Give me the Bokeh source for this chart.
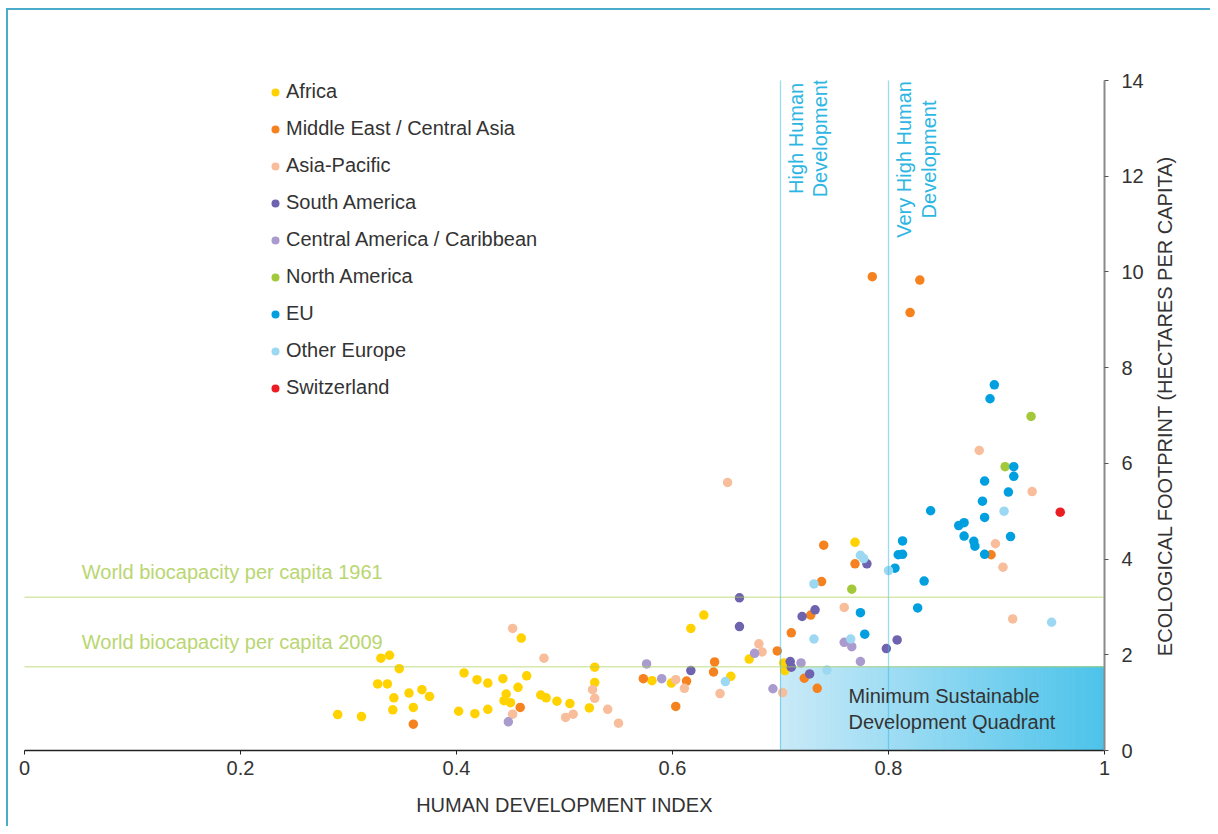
import math
import numpy as np
from bokeh.plotting import figure
from bokeh.layouts import row
from bokeh.models import Range1d, FixedTicker, Span, Label
from bokeh.embed import file_html
from bokeh.resources import INLINE

# ---------------- data ----------------
REGIONS = ["Africa", "Middle East / Central Asia", "Asia-Pacific", "South America",
           "Central America / Caribbean", "North America", "EU", "Other Europe", "Switzerland"]
COLORS = ["#FFD200", "#F5821F", "#F8BE9C", "#6E63AE", "#A99BCE", "#A3C93A",
          "#009FE0", "#9DD8F2", "#EC1C24"]

AFRICA_HDI = [0.290, 0.312, 0.330, 0.338, 0.347, 0.327, 0.336, 0.342, 0.341, 0.356,
              0.368, 0.375, 0.360, 0.407, 0.419, 0.402, 0.417, 0.460, 0.429, 0.443,
              0.465, 0.457, 0.446, 0.444, 0.450, 0.429, 0.478, 0.483, 0.493, 0.505,
              0.528, 0.528, 0.523, 0.581, 0.599, 0.629, 0.617, 0.654, 0.671, 0.703,
              0.704, 0.769]
AFRICA_EF = [0.75, 0.71, 1.93, 1.99, 1.71, 1.39, 1.39, 1.10, 0.85, 1.20,
             1.27, 1.13, 0.90, 1.62, 1.48, 0.82, 0.77, 2.35, 1.41, 1.50,
             1.56, 1.32, 1.18, 1.04, 1.00, 0.86, 1.16, 1.10, 1.03, 0.98,
             1.74, 1.42, 0.89, 1.46, 1.41, 2.83, 2.55, 1.55, 1.91, 1.83,
             1.67, 4.35]

MIDEAST_HDI = [0.360, 0.459, 0.573, 0.603, 0.613, 0.639, 0.638, 0.697, 0.710, 0.722,
               0.734, 0.728, 0.738, 0.740, 0.769, 0.785, 0.829, 0.820, 0.895]
MIDEAST_EF = [0.55, 0.90, 1.50, 0.92, 1.45, 1.85, 1.64, 2.08, 2.46, 1.51,
              1.30, 2.83, 3.53, 4.29, 3.90, 9.90, 9.83, 9.15, 4.09]

ASIA_HDI = [0.452, 0.481, 0.452, 0.501, 0.508, 0.526, 0.528, 0.540, 0.550, 0.603,
            0.611, 0.644, 0.651, 0.680, 0.683, 0.702, 0.759, 0.884, 0.933, 0.899,
            0.906, 0.915]
ASIA_EF = [2.55, 1.93, 0.76, 0.69, 0.76, 1.27, 1.09, 0.86, 0.57, 1.48,
           1.30, 1.19, 5.60, 2.23, 2.06, 1.21, 2.99, 6.27, 5.41, 4.32,
           3.83, 2.75]

SOUTHAM_HDI = [0.617, 0.662, 0.662, 0.709, 0.710, 0.727, 0.720, 0.732, 0.780, 0.808, 0.798]
SOUTHAM_EF = [1.67, 3.19, 2.59, 1.86, 1.74, 1.60, 2.80, 2.94, 3.90, 2.31, 2.13]

CENTRALAM_HDI = [0.448, 0.576, 0.590, 0.676, 0.693, 0.719, 0.759, 0.766, 0.774]
CENTRALAM_EF = [0.60, 1.81, 1.50, 2.03, 1.29, 1.83, 2.26, 2.17, 1.86]

NORTHAM_HDI = [0.932, 0.908, 0.766]
NORTHAM_EF = [6.98, 5.93, 3.37]

EU_HDI = [0.898, 0.894, 0.916, 0.916, 0.889, 0.911, 0.887, 0.839, 0.889, 0.865,
          0.870, 0.870, 0.879, 0.880, 0.913, 0.889, 0.813, 0.809, 0.813, 0.806,
          0.833, 0.774, 0.827, 0.778]
EU_EF = [7.64, 7.35, 5.93, 5.73, 5.63, 5.40, 5.21, 5.01, 4.87, 4.70,
         4.76, 4.48, 4.37, 4.27, 4.47, 4.10, 4.38, 4.09, 4.10, 3.81,
         3.54, 2.88, 2.98, 2.43]

OTHEREU_HDI = [0.649, 0.731, 0.731, 0.743, 0.765, 0.774, 0.777, 0.800, 0.907, 0.951]
OTHEREU_EF = [1.44, 3.48, 2.33, 1.68, 2.33, 4.08, 4.01, 3.76, 5.00, 2.68]

SWISS_HDI = [0.959]
SWISS_EF = [4.98]

BIO_1961 = 3.2
BIO_2009 = 1.75
HDI_HIGH = 0.7
HDI_VERY_HIGH = 0.8

X_TICKS = [0, 0.2, 0.4, 0.6, 0.8, 1]
X_TICK_LABELS = ["0", "0.2", "0.4", "0.6", "0.8", "1"]
Y_TICKS = [0, 2, 4, 6, 8, 10, 12, 14]

X_TITLE = "HUMAN DEVELOPMENT INDEX"
Y_TITLE = "ECOLOGICAL FOOTPRINT (HECTARES PER CAPITA)"

SERIES_X = [AFRICA_HDI, MIDEAST_HDI, ASIA_HDI, SOUTHAM_HDI, CENTRALAM_HDI,
            NORTHAM_HDI, EU_HDI, OTHEREU_HDI, SWISS_HDI]
SERIES_Y = [AFRICA_EF, MIDEAST_EF, ASIA_EF, SOUTHAM_EF, CENTRALAM_EF,
            NORTHAM_EF, EU_EF, OTHEREU_EF, SWISS_EF]

FONT = "Liberation Sans"
TXT = "#333333"
TOP, BOTTOM, LEFT, RIGHT = 70, 76, 16, 44
H = 816

# ---------------- main figure ----------------
p = figure(width=LEFT + 1080 + RIGHT, height=H, x_range=Range1d(0, 1),
           y_range=Range1d(Y_TICKS[0], Y_TICKS[-1]),
           y_axis_location="right", output_backend="svg", toolbar_location=None,
           min_border_left=LEFT, min_border_right=RIGHT, min_border_top=TOP,
           min_border_bottom=BOTTOM,
           background_fill_color="white", border_fill_color="white")
p.outline_line_color = None
p.xgrid.visible = False
p.ygrid.visible = False

# gradient quadrant (decoration)
n = 90
edges = np.linspace(HDI_HIGH, 1.0, n + 1)
c0 = np.array([202, 234, 248])
c1 = np.array([76, 195, 234])
cols = ["#%02x%02x%02x" % tuple(int(round(v)) for v in (c0 + (c1 - c0) * t))
        for t in (np.arange(n) + 0.5) / n]
p.quad(left=edges[:-1], right=edges[1:], bottom=0, top=BIO_2009,
       fill_color=cols, line_color=cols, line_width=1)

# reference lines
for loc in (HDI_HIGH, HDI_VERY_HIGH):
    p.add_layout(Span(location=loc, dimension="height", line_color="#36B8E4",
                      line_dash="1 1", line_width=1.3))
for loc in (BIO_1961, BIO_2009):
    p.add_layout(Span(location=loc, dimension="width", line_color="#ADD15A",
                      line_dash="1 1", line_width=1.5))

# annotation texts
for val, yr in ((BIO_1961, "1961"), (BIO_2009, "2009")):
    p.add_layout(Label(x=0.053, y=val + 0.52, text="World biocapacity per capita " + yr,
                       text_font=FONT, text_font_size="20px", text_color="#B9D672",
                       text_baseline="middle", text_align="left"))
p.add_layout(Label(x=HDI_HIGH + 0.0255, y=12.79, text="High Human\nDevelopment",
                   angle=math.pi / 2, text_font=FONT, text_font_size="20px",
                   text_color="#2DB6E3", text_align="center", text_baseline="middle",
                   text_line_height=1.1))
p.add_layout(Label(x=HDI_VERY_HIGH + 0.026, y=12.35, text="Very High Human\nDevelopment",
                   angle=math.pi / 2, text_font=FONT, text_font_size="20px",
                   text_color="#2DB6E3", text_align="center", text_baseline="middle",
                   text_line_height=1.1))
p.add_layout(Label(x=0.763, y=0.87, text="Minimum Sustainable\nDevelopment Quadrant",
                   text_font=FONT, text_font_size="20px", text_color=TXT,
                   text_align="left", text_baseline="middle", text_line_height=1.15))

# data points
for name, col, xs, ys in zip(REGIONS, COLORS, SERIES_X, SERIES_Y):
    p.scatter(xs, ys, size=9.5, fill_color=col, line_color=None, legend_label=name)

# legend
lg = p.legend[0]
lg.location = (241, 351)
lg.label_text_font = FONT
lg.label_text_font_size = "20px"
lg.label_text_color = TXT
lg.glyph_width = 20
lg.glyph_height = 22
lg.label_height = 22
lg.spacing = 14
lg.padding = 0
lg.margin = 0
lg.label_standoff = 1
lg.border_line_color = None
lg.background_fill_alpha = 0

# axes
xa = p.xaxis[0]
xa.ticker = FixedTicker(ticks=X_TICKS)
xa.major_label_overrides = dict(zip(X_TICKS, X_TICK_LABELS))
xa.axis_line_color = "#222222"
xa.axis_line_width = 1.6
xa.major_tick_line_color = "#222222"
xa.major_tick_out = 4
xa.major_tick_in = 0
xa.minor_tick_out = 0
xa.minor_tick_in = 0
xa.major_label_text_font = FONT
xa.major_label_text_font_size = "20px"
xa.major_label_text_color = TXT
xa.major_label_standoff = 6
xa.axis_label = X_TITLE
xa.axis_label_text_font = FONT
xa.axis_label_text_font_size = "20px"
xa.axis_label_text_font_style = "normal"
xa.axis_label_text_color = TXT
xa.axis_label_standoff = 16

ya = p.yaxis[0]
ya.ticker = FixedTicker(ticks=Y_TICKS)
ya.axis_line_color = "#8A8A8A"
ya.axis_line_width = 2
ya.major_tick_line_color = "#555555"
ya.major_tick_out = 4
ya.major_tick_in = 0
ya.minor_tick_out = 0
ya.minor_tick_in = 0
ya.major_label_text_font = FONT
ya.major_label_text_font_size = "20px"
ya.major_label_text_color = TXT
ya.major_label_standoff = 13

# ---------------- narrow figure holding the vertical y-axis title ----------------
W2 = 62
p2 = figure(width=W2, height=H, x_range=Range1d(0, W2),
            y_range=Range1d(Y_TICKS[0], Y_TICKS[-1]),
            x_axis_type=None, y_axis_type=None, output_backend="svg",
            toolbar_location=None, min_border_left=0, min_border_right=0,
            min_border_top=TOP, min_border_bottom=BOTTOM,
            background_fill_color="white", border_fill_color="white")
p2.outline_line_color = None
p2.grid.visible = False
p2.add_layout(Label(x=16.7, y=(Y_TICKS[0] + Y_TICKS[-1]) / 2 + 0.2, text=Y_TITLE,
                    angle=math.pi / 2, text_font=FONT, text_font_size="20px",
                    text_color=TXT, text_align="center", text_baseline="middle"))

lay = row(p, p2, spacing=0)
lay.styles = {"border-top": "2px solid #4BABCB", "border-left": "2px solid #4BABCB",
              "margin-left": "6px", "margin-top": "8px"}

open("out.html", "w").write(file_html(lay, INLINE))
